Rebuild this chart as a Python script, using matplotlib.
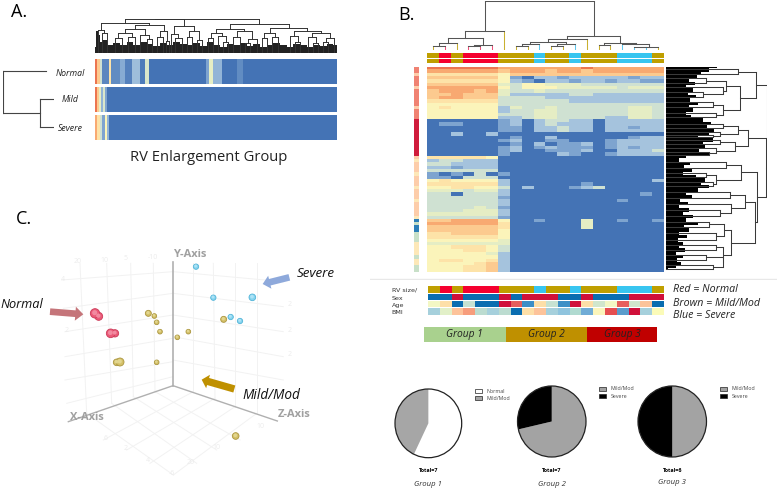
import matplotlib
matplotlib.use('Agg')
import matplotlib.pyplot as plt
import numpy as np
from matplotlib.colors import ListedColormap, LinearSegmentedColormap
from matplotlib.patches import Patch, FancyArrow, Circle

W, H = 777, 488
plt.rcParams['font.family'] = ['Open Sans', 'DejaVu Sans']

# heat colours, low to high
heat_colors = ['#4473b5', '#7fa5d0', '#a6c4de', '#cfe1d2', '#e6eec4',
               '#fbf5bb', '#fde3a8', '#fdcb90', '#f9aa72', '#ec7550']
heat = LinearSegmentedColormap.from_list('heat', heat_colors)

# --- A: three rows of stripes
a_edges = [286, 292, 300, 305, 328, 334, 360, 376, 396, 420, 435, 448, 618, 628, 638, 665, 710, 728, 1010]
normal_vals = [9, 7, 3, 0.4, 6, 0.5, 1.2, 0.3, 1.8, 0.2, 3.5, 0, 1, 4, 1.5, 0, 0.5, 0]
mild_edges = [286, 292, 298, 303, 308, 314, 322, 1010]
mild_vals = [9, 7, 4, 1.5, 3.5, 1, 0]
severe_edges = [286, 292, 300, 306, 314, 320, 328, 1010]
severe_vals = [8, 6, 3, 1, 5, 1.5, 0]
a_labels = ['Normal', 'Mild', 'Severe']

tree_a_left = [92, [70, 295, [60, 305, 320]],
               [84, [74, [62, [45, 345, 365], [50, 385, 405]], [55, 420, [42, 440, 455]]],
                [66, [48, 470, 490], [38, 498, 506]]]]
tree_a_mid = [82, [58, 512, [45, 525, 545]], [66, [50, 560, 575], [40, 590, 605]]]
tree_a_right = [88, [72, [60, [45, 625, 640], [52, 655, [35, 670, 685]]],
                     [68, [50, 700, 720], [42, [30, 735, 750], 770]]],
                [76, [62, [45, 785, 800], [48, 815, 835]],
                 [66, [52, 870, [35, 885, 900]], [62, [48, 925, [30, 940, 955]], [45, [35, 970, 985], 1003]]]]]
tree_a = [103, [102, tree_a_left, tree_a_mid], tree_a_right]
a_mass_x = [286, 290, 296, 302, 310, 330, 350, 370, 390, 410, 430, 450, 470, 490, 510, 530, 550, 570, 590, 610,
            630, 650, 670, 690, 710, 730, 750, 770, 790, 810, 830, 850, 870, 890, 910, 930, 950, 970, 990, 1010]
a_mass_h = [20, 68, 55, 34, 40, 24, 32, 26, 34, 24, 33, 28, 22, 31, 25, 33, 27, 24, 30, 22,
            34, 25, 20, 28, 24, 30, 22, 27, 20, 26, 30, 24, 20, 28, 25, 20, 26, 22, 28, 24]
# small tree beside the rows of A: root at the left
tree_groups = [[(8, 213), (8, 340)], [(8, 213), (138, 213)], [(8, 340), (120, 340)],
               [(120, 298), (120, 380)], [(120, 298), (163, 298)], [(120, 380), (163, 380)]]

# --- B: heat map, one string per row, one digit per column
b_rows = [
    "99999988888889888888", "88888878887887888888", "66666657777777777777", "77777751022122222122",
    "66666652102212212211", "77777743554443333333", "88888853555444443444", "78887843343333333333",
    "77877742222233222222", "78877733332222222222", "66666633333322222222", "55555533333333333333",
    "56555524334333333443", "55555523344333333443", "55555533344333333443", "55555522344333322443",
    "00000012023322022222", "01100012023222022222", "00000011022322022122", "00000011022322022222",
    "00200200000000000000", "00000001002000000122", "00000012001100012222", "00000001020112012222",
    "00000012012111012122", "00000012001112002223", "00000010000210012222", "66666500000000000000",
    "23322200000000000000", "33222200000000000000", "22122200000000000000", "33333300000000000000",
    "10103010000000000000", "11033300000000000000", "56555520000000000002", "66666620000001000000",
    "55665530200012300000", "44434420000000000000", "33033320000000000010", "33333310000000000000",
    "33333320000000001000", "33333320000000000000", "33334310000000000000", "33344420000000000000",
    "44444420000000000000", "33333310000000000000", "77888850010004001001", "88888860000004000000",
    "77777760000004000000", "77777750000000000000", "66777750000000000000", "66666650000000000000",
    "55555540000000000000", "44444440000000000000", "55666530000000000000", "55566530000000000000",
    "55555420000000000000", "55555520000000000000", "56655620000000000000", "55556720000000000000",
    "55566720000000000000", "55566720000000000000"]
side_codes = "ssosssosssssosss" + "rrrrrrrrrrr" + "oyoooyoooyoooyooooy" + "bgbbggg" + "yyyygyygg"
side_hex = {'s': '#f08272', 'r': '#d01c3c', 'o': '#fdcdaa', 'b': '#2c7fb8', 'g': '#c8e0c8', 'y': '#fde8b8'}
side_order = list(side_hex)

# annotation colours per patient
rv_codes = "GRGRRRGGGBGGBGGGBBBG"
sex_codes = "BBRBBBRBRRRBBRBBBRRR"
age_hex = ['#f3f7c4', '#fddfa8', '#0a6db0', '#c6e2d2', '#0a6db0', '#0a6db0', '#d0103a', '#e65f5c', '#3d8fc6', '#fddfa8',
           '#c6e2d2', '#3d8fc6', '#d0103a', '#fddfa8', '#d0e6cc', '#f3f7c4', '#e65f5c', '#d0e6cc', '#fbc39a', '#0a6db0']
bmi_hex = ['#a6d0dc', '#e2f0c8', '#fdc39a', '#f79d7c', '#bcdcd0', '#a6d0dc', '#bcdcd0', '#0a6db0', '#fddfa8', '#fdc39a',
           '#a6d0dc', '#8fc4de', '#b0dad0', '#70acd6', '#fbf5bb', '#e64e50', '#5a9ccc', '#d0103a', '#a6d0dc', '#fbfbb8']
code_hex = {'G': '#bf9f00', 'R': '#f5002f', 'B': '#38c5f0'}
sex_hex = {'B': '#0a6db0', 'R': '#d0103a'}
ann_labels = ['RV size/', 'Sex', 'Age', 'BMI']
legend_lines = ['Red = Normal', 'Brown = Mild/Mod', 'Blue = Severe']

group_names = ['Group 1', 'Group 2', 'Group 3']
group_sizes = [7, 7, 6]
group_colors = ['#a9d18e', '#bf9000', '#c00000']

gold, red, blue = '#c9b030', '#f0507a', '#60c8ee'
tree_b_top = [147,
              [57, [35, [20, [12, (99, 0, gold), (134, 0, red)], (170, 0, gold)],
                    [15, [12, (205, 0, red), (241, 0, red)], (276, 0, red)]],
               (312, 0, gold)],
              [43, [32, [25, [18, [12, (347, 0, gold), (383, 0, gold)], (418, 0, blue)],
                         [18, [12, (454, 0, gold), (489, 0, gold)], (525, 0, blue)]], (560, 0, gold)],
               [20, [15, (596, 0, gold), (631, 0, gold)],
                [18, (667, 0, blue), [10, [8, (702, 0, blue), (738, 0, blue)], (773, 0, gold)]]]]]
tree_b_right = [302,
                [270, [215, 207, 222],
                 [222, [180, [120, 235, 250], [170, 262, [110, 275, 290]]], [170, [140, 305, 322], [150, 338, 352]]]],
                [299, [245, [215, [170, 372, 385], [160, 395, [140, 405, 412]]],
                       [205, [160, 420, 432], [150, 445, [130, 455, 465]]]],
                 [272, [225, [180, 485, 505], [150, [120, 520, 532], [140, 545, 558]]],
                  [265, [235, [190, 575, 595], [195, 612, [160, 630, 648]]],
                   [195, [172, [130, 665, 682], [150, 698, 720]],
                    [170, [150, 735, 750], [170, [120, 765, 780], [140, 795, 808]]]]]]]]
b_mass_y = np.arange(200, 820, 10)
b_mass_h = [152, 128, 105, 92, 70, 88, 60, 82, 65, 90, 72, 95, 70, 82, 60, 76,
            110, 135, 122, 145, 128, 95, 140, 110, 118, 98, 128, 60, 40, 72, 55, 78,
            50, 90, 118, 105, 128, 95, 60, 78, 42, 66, 40, 70, 52, 80, 60, 95,
            55, 70, 40, 62, 35, 52, 38, 58, 30, 50, 32, 45, 30, 5]

# pies
pie1_vals, pie1_names = [4, 3], ['Normal', 'Mild/Mod']
pie2_vals, pie2_names = [5, 2], ['Mild/Mod', 'Severe']
pie3_vals, pie3_names = [3, 3], ['Mild/Mod', 'Severe']
pie_totals = ['Total=7', 'Total=7', 'Total=6']

# --- C: projected 3D scatter
red_x = [296, 285, 345, 332]
red_y = [349, 340, 400, 400]
red_s = [12, 14, 11, 13]
gold_x = [445, 463, 470, 480, 565, 532, 671, 350, 360, 470, 707]
gold_y = [340, 348, 367, 395, 395, 412, 358, 487, 486, 487, 708]
gold_s = [9, 7, 7, 7, 7, 7, 9, 10, 12, 7, 10]
blue_x = [588, 640, 757, 692, 720]
blue_y = [200, 293, 292, 351, 363]
blue_s = [8, 8, 10, 8, 8]
grid_lines = [((240, 190), (260, 640)), ((320, 190), (335, 610)), ((392, 190), (400, 590)), ((460, 190), (465, 575)),
              ((185, 240), (519, 215)), ((190, 325), (519, 280)), ((195, 395), (519, 345)), ((195, 470), (519, 415)),
              ((195, 540), (519, 485)), ((200, 610), (519, 530)),
              ((580, 190), (580, 575)), ((640, 190), (645, 595)), ((705, 190), (705, 620)), ((770, 190), (770, 640)),
              ((519, 215), (850, 245)), ((519, 280), (850, 320)), ((519, 345), (850, 395)), ((519, 410), (850, 470)),
              ((519, 480), (850, 540)),
              ((260, 640), (520, 825)), ((335, 610), (590, 790)), ((400, 590), (650, 750)), ((465, 575), (720, 720)),
              ((580, 575), (310, 720)), ((645, 595), (380, 750)), ((705, 620), (450, 790)), ((770, 640), (520, 825))]
tick_text = ['20', '10', '5', '-10', '4', '2', '6', '2', '4', '20', '10', '-6', '10', '2', '2', '2']
tick_x = [232, 312, 378, 460, 190, 200, 318, 378, 443, 572, 648, 517, 780, 868, 868, 868]
tick_y = [185, 180, 175, 172, 238, 392, 715, 745, 782, 787, 742, 820, 678, 315, 390, 465]


def panel(x0, y0, x1, y1):
    ax = fig.add_axes([x0 / W, 1 - y1 / H, (x1 - x0) / W, (y1 - y0) / H])
    ax.axis('off')
    return ax


def draw_tree(ax, node, horiz=False, lw=0.7, col='#333333'):
    """node: [height, child, child]; leaf: position or (position, base, colour)"""
    if not isinstance(node, list):
        if isinstance(node, tuple):
            return node
        return node, 0, None
    h = node[0]
    pos = []
    for child in node[1:]:
        p, base, c = draw_tree(ax, child, horiz, lw, col)
        if horiz:
            ax.plot([base, h], [p, p], color=c or col, lw=lw)
        else:
            ax.plot([p, p], [base, h], color=c or col, lw=lw)
        pos.append(p)
    if horiz:
        ax.plot([h, h], pos, color=col, lw=lw)
    else:
        ax.plot(pos, [h, h], color=col, lw=lw)
    return (pos[0] + pos[1]) / 2, h, None


def stripes(ax, edges, vals):
    ax.pcolormesh(edges, [0, 1], [vals], cmap=heat, vmin=0, vmax=9)
    ax.set_xlim(286, 1010)


def pie(box, vals, names, colors, total, group, legend_at, group_dy=0):
    ax = panel(*box)
    ax.pie(vals, colors=colors, startangle=90, counterclock=False, radius=1)
    ax.add_patch(Circle((0, 0), 1, fill=False, ec='#222222', lw=0.9, clip_on=False))
    ax.set_aspect('auto')
    ax.set_xlim(-1, 1)
    ax.set_ylim(-1, 1)
    cx = (box[0] + box[2]) / 2
    fig.text(cx / W, 1 - 470.5 / H, total, fontsize=3.9, fontweight='bold', ha='center', va='center')
    fig.text(cx / W, 1 - (484 + group_dy) / H, group, fontsize=5.6, style='italic', color='#333333', ha='center', va='center')
    handles = [Patch(fc=c, ec='#222222', lw=0.5) for c in colors]
    fig.legend(handles, names, loc='upper left', bbox_to_anchor=(legend_at[0] / W, 1 - legend_at[1] / H), frameon=False,
               fontsize=3.8, handlelength=1.4, handleheight=0.8, labelcolor='#444444', labelspacing=0.4,
               borderpad=0, borderaxespad=0, handletextpad=0.75)


fig = plt.figure(figsize=(W / 100, H / 100), dpi=100)

# ---- Panel A
fig.text(11 / W, 1 - 12 / H, 'A.', fontsize=13, ha='left', va='center')
ax = panel(95.3, 18.3, 336.7, 53.3)
draw_tree(ax, tree_a)
ax.fill_between(a_mass_x, 0, a_mass_h, color='#222222', lw=0, step='mid')
ax.set_xlim(286, 1010)
ax.set_ylim(0, 105)
stripes(panel(95.3, 58.5, 336.7, 84), a_edges, normal_vals)
stripes(panel(95.3, 86.5, 336.7, 112), mild_edges, mild_vals)
stripes(panel(95.3, 115, 336.7, 140), severe_edges, severe_vals)
ax = panel(2.7, 65, 54.3, 132)
for p, q in tree_groups:
    ax.plot([p[0], q[0]], [p[1], q[1]], color='#444444', lw=0.8)
ax.set_xlim(8, 163)
ax.set_ylim(396, 195)
for name, yy in zip(a_labels, [74, 99, 128]):
    fig.text(70.5 / W, 1 - yy / H, name, fontsize=6.3, style='italic', color='#222222', ha='center', va='center')
fig.text(208.5 / W, 1 - 157.5 / H, 'RV Enlargement Group', fontsize=10.6, color='#222222', ha='center', va='center')

# ---- Panel B
fig.text(406 / W, 1 - 15 / H, 'B.', fontsize=13, ha='center', va='center')
ax = panel(427, 1, 663.3, 50)
draw_tree(ax, tree_b_top, lw=0.75, col='#555555')
ax.set_xlim(81, 790)
ax.set_ylim(0, 147)
for y0, y1 in [(52.7, 57.7), (58.7, 62.7)]:
    ax = panel(427, y0, 663.3, y1)
    ax.imshow([[matplotlib.colors.to_rgb(code_hex[c]) for c in rv_codes]], aspect='auto', interpolation='nearest')
ax = panel(427, 66.7, 663.3, 272.3)
b_matrix = np.array([[int(c) for c in row] for row in b_rows])
ax.imshow(b_matrix, aspect='auto', interpolation='nearest', cmap=heat, vmin=0, vmax=9)
ax = panel(414, 66.7, 418.3, 272.3)
ax.imshow([[side_order.index(c)] for c in side_codes], aspect='auto', interpolation='nearest',
          cmap=ListedColormap(list(side_hex.values())), vmin=-0.5, vmax=5.5)
ax = panel(666, 66.7, 767, 272.3)
draw_tree(ax, tree_b_right, horiz=True, lw=0.75, col='#3a3a3a')
ax.fill_betweenx(b_mass_y, 0, b_mass_h, color='black', lw=0, step='mid')
ax.set_xlim(0, 302)
ax.set_ylim(817, 200)

# separator
ax = panel(370, 278, 777, 280)
ax.axhline(0.5, color='#e8e8e8', lw=1)
ax.set_ylim(0, 1)

# annotation rows
rows_hex = [[code_hex[c] for c in rv_codes], [sex_hex[c] for c in sex_codes], age_hex, bmi_hex]
row_y = [(286, 293), (293.5, 300.2), (301, 307.3), (308, 315)]
for vals, (y0, y1), lab, ty in zip(rows_hex, row_y, ann_labels, [289.5, 298, 305.3, 312.8]):
    ax = panel(428, y0, 664, y1)
    ax.imshow([[matplotlib.colors.to_rgb(c) for c in vals]], aspect='auto', interpolation='nearest')
    fig.text(391.5 / W, 1 - ty / H, lab, fontsize=4.6, family='DejaVu Sans', color='#333333', ha='left', va='center')
for line, yy in zip(legend_lines, [290, 303, 316]):
    fig.text(673 / W, 1 - yy / H, line, fontsize=7.7, style='italic', color='#222222', ha='left', va='center')

# group bar
ax = panel(424, 327, 657, 342)
left = 0
for name, size, col in zip(group_names, group_sizes, group_colors):
    ax.barh(0, size, left=left, height=1, color=col)
    ax.text(left + size / 2, 0, name, fontsize=7.4, style='italic', color='#222222', ha='center', va='center')
    left += size
ax.set_xlim(0, sum(group_sizes))
ax.set_ylim(-0.5, 0.5)

pie((395, 389, 461.7, 457.7), pie1_vals, pie1_names, ['white', '#a6a6a6'], pie_totals[0], group_names[0], (475, 389))
pie((517.5, 386, 586, 457), pie2_vals, pie2_names, ['#a3a3a3', 'black'], pie_totals[1], group_names[1], (599, 386.5))
pie((638, 386, 706.5, 457), pie3_vals, pie3_names, ['#a3a3a3', 'black'], pie_totals[2], group_names[2], (720, 386.5), -1.5)

# ---- Panel C
fig.text(24 / W, 1 - 219 / H, 'C.', fontsize=13, ha='center', va='center')
ax = panel(0, 200, 380, 488)
ax.set_xlim(0, 1140)
ax.set_ylim(864, 0)
for p, q in grid_lines:
    ax.plot([p[0], q[0]], [p[1], q[1]], color='#f2f2f2', lw=0.7, zorder=1)
for t, xx, yy in zip(tick_text, tick_x, tick_y):
    ax.text(xx, yy, t, fontsize=5, color='#ececec', ha='center', va='center')
ax.plot([519, 519], [185, 557], color='#b0b0b0', lw=1.2, zorder=2)
ax.plot([519, 205], [557, 665], color='#b0b0b0', lw=1.0, zorder=2)
ax.plot([519, 832], [557, 663], color='#b0b0b0', lw=1.0, zorder=2)
for name, xx, yy in [('Y-Axis', 568, 163), ('X-Axis', 262, 653), ('Z-Axis', 882, 643)]:
    ax.text(xx, yy, name, fontsize=8, fontweight='bold', color='#a0a0a0', ha='center', va='center', zorder=3)
for xs, ys, ss, fill, edge, shine in [(gold_x, gold_y, gold_s, '#d4c068', '#ab963f', '#e2d68f'),
                                      (blue_x, blue_y, blue_s, '#86d4ef', '#52b4d8', '#aee3f6'),
                                      (red_x, red_y, red_s, '#ea5a78', '#cc3a58', '#f28aa0')]:
    areas = (np.array(ss) * 2 / 3 * 0.72) ** 2
    ax.scatter(xs, ys, s=areas, c=fill, edgecolors=edge, linewidths=0.6, zorder=4)
    ax.scatter(np.array(xs) - 1, np.array(ys) - 2, s=areas * 0.3, c=shine, linewidths=0, zorder=4)
ax.add_patch(FancyArrow(150, 335, 100, 8, width=20, head_width=42, head_length=24, length_includes_head=True,
                        color='#c5757a', lw=0, zorder=6))
ax.add_patch(FancyArrow(868, 232, -80, 20, width=20, head_width=40, head_length=22, length_includes_head=True,
                        color='#8ea9db', lw=0, zorder=6))
ax.add_patch(FancyArrow(703, 567, -98, -28, width=22, head_width=42, head_length=20, length_includes_head=True,
                        color='#bf9000', lw=0, zorder=6))
ax.text(65, 312, 'Normal', fontsize=9.2, style='italic', color='#111111', ha='center', va='center')
ax.text(948, 220, 'Severe', fontsize=9.6, style='italic', color='#111111', ha='center', va='center')
ax.text(813, 587, 'Mild/Mod', fontsize=9.8, style='italic', color='#111111', ha='center', va='center')

plt.savefig('out.png', dpi=100)
